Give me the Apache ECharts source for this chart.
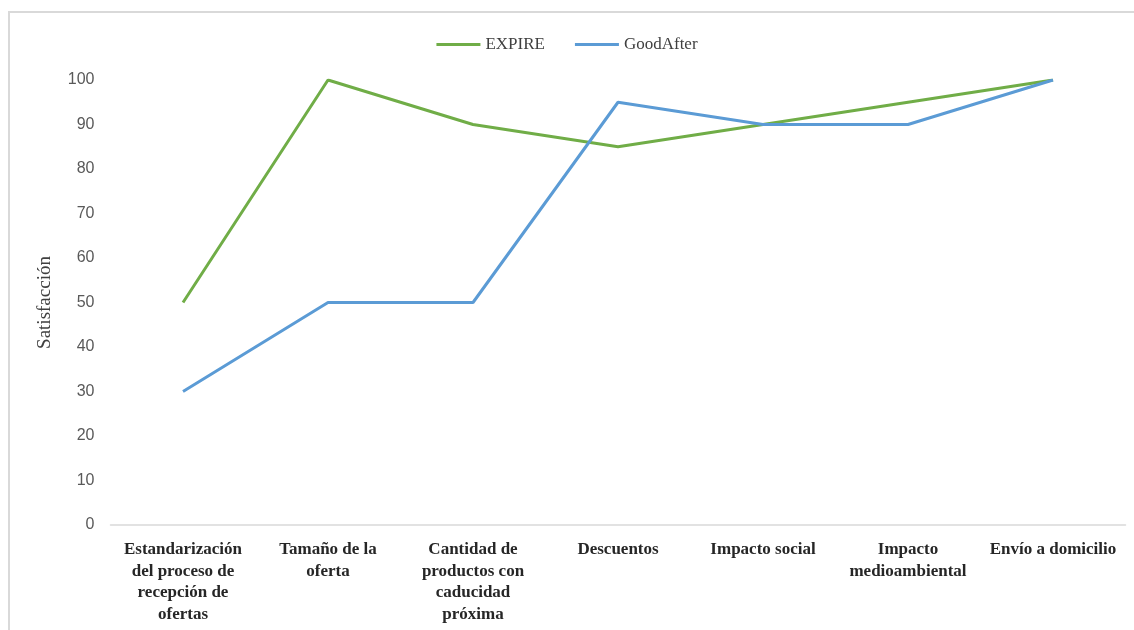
<!DOCTYPE html>
<html>
<head>
<meta charset="utf-8">
<script src="https://cdn.jsdelivr.net/npm/echarts@6/dist/echarts.min.js"></script>
<style>
html,body{margin:0;padding:0;background:#fff;}
#chart{width:1134px;height:630px;}
</style>
</head>
<body>
<div id="chart"></div>
<script>
const categories = [
  "Estandarización\ndel proceso de\nrecepción de\nofertas",
  "Tamaño de la\noferta",
  "Cantidad de\nproductos con\ncaducidad\npróxima",
  "Descuentos",
  "Impacto social",
  "Impacto\nmedioambiental",
  "Envío a domicilio"
];
const expire = [50, 100, 90, 85, 90, 95, 100];
const goodAfter = [30, 50, 50, 95, 90, 90, 100];
const yTicks = { min: 0, max: 100, interval: 10 };

const chart = echarts.init(document.getElementById('chart'), null, { renderer: 'canvas' });
chart.setOption({
  animation: false,
  backgroundColor: '#ffffff',
  graphic: [{
    type: 'rect',
    shape: { x: 9, y: 12, width: 1300, height: 800 },
    style: { fill: 'none', stroke: '#d9d9d9', lineWidth: 2 },
    silent: true, z: -1
  }],
  legend: {
    top: 31,
    left: 'center',
    itemWidth: 44,
    itemHeight: 3,
    itemGap: 30,
    icon: 'rect',
    textStyle: { fontFamily: 'Liberation Serif', fontSize: 17, color: '#404040' },
    data: ['EXPIRE', 'GoodAfter']
  },
  grid: { left: 110.5, right: 8.5, top: 80, bottom: 105, containLabel: false },
  xAxis: {
    type: 'category',
    data: categories,
    boundaryGap: true,
    axisLine: { lineStyle: { color: '#d9d9d9', width: 1.5 } },
    axisTick: { show: false },
    axisLabel: {
      interval: 0,
      margin: 14,
      fontFamily: 'Liberation Serif',
      fontWeight: 'bold',
      fontSize: 17,
      lineHeight: 21.5,
      color: '#262626',
      align: 'center'
    }
  },
  yAxis: {
    type: 'value',
    min: yTicks.min,
    max: yTicks.max,
    interval: yTicks.interval,
    name: 'Satisfacción',
    nameLocation: 'middle',
    nameGap: 56,
    nameTextStyle: { fontFamily: 'Liberation Serif', fontSize: 19, color: '#404040' },
    axisLine: { show: false },
    axisTick: { show: false },
    splitLine: { show: false },
    axisLabel: { margin: 16, fontFamily: 'Liberation Sans', fontSize: 16, color: '#595959' }
  },
  series: [
    {
      name: 'EXPIRE', type: 'line', data: expire,
      symbol: 'none', color: '#70AD47',
      lineStyle: { width: 3, color: '#70AD47' }
    },
    {
      name: 'GoodAfter', type: 'line', data: goodAfter,
      symbol: 'none', color: '#5B9BD5',
      lineStyle: { width: 3, color: '#5B9BD5' }
    }
  ]
});
</script>
</body>
</html>
